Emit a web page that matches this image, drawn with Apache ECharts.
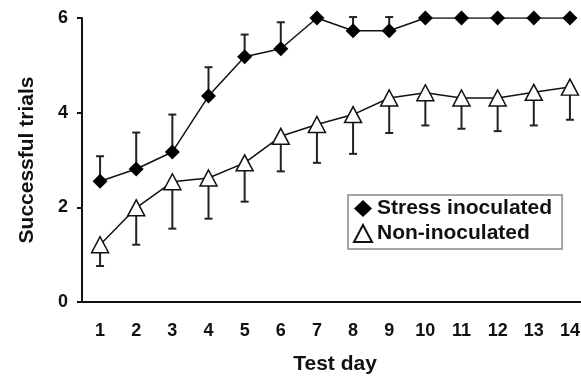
<!DOCTYPE html>
<html>
<head>
<meta charset="utf-8">
<script src="https://cdn.jsdelivr.net/npm/echarts@6/dist/echarts.min.js"></script>
<style>
  html, body { margin: 0; padding: 0; background: #fff; }
  #chart { width: 581px; height: 376px; }
</style>
</head>
<body>
<div id="chart"></div>
<script>
const days = ['1', '2', '3', '4', '5', '6', '7', '8', '9', '10', '11', '12', '13', '14'];
const stressMean = [2.55, 2.81, 3.17, 4.35, 5.18, 5.35, 6, 5.73, 5.73, 6, 6, 6, 6, 6];
const stressUpper = [3.08, 3.58, 3.96, 4.96, 5.65, 5.91, null, 6.02, 6.02, null, null, null, null, null];
const nonMean = [1.21, 1.99, 2.54, 2.62, 2.94, 3.5, 3.75, 3.96, 4.31, 4.42, 4.31, 4.31, 4.43, 4.54];
const nonLower = [0.76, 1.21, 1.55, 1.76, 2.12, 2.76, 2.94, 3.13, 3.57, 3.73, 3.66, 3.61, 3.73, 3.85];
const yTicks = { min: 0, max: 6, interval: 2 };

const font = 'Liberation Sans, Arial, sans-serif';

// error bars: vertical line with a cap at the far end
function errorBar(capAtTop) {
    return function (params, api) {
        var x = api.value(0);
        var p1 = api.coord([x, api.value(1)]);
        var p2 = api.coord([x, api.value(2)]);
        var capY = capAtTop ? p2[1] : p1[1];
        var st = { stroke: '#222', lineWidth: 2 };
        return {
            type: 'group',
            children: [
                { type: 'line', shape: { x1: p1[0], y1: p1[1], x2: p2[0], y2: p2[1] }, style: st },
                { type: 'line', shape: { x1: p1[0] - 4, y1: capY, x2: p1[0] + 4, y2: capY }, style: st }
            ]
        };
    };
}

var stressErr = [];
var nonErr = [];
for (var i = 0; i < days.length; i++) {
    if (stressUpper[i] != null) stressErr.push([i, stressMean[i], stressUpper[i]]);
    nonErr.push([i, nonLower[i], nonMean[i]]);
}

var myChart = echarts.init(document.getElementById('chart'));

var option = {
    animation: false,
    textStyle: { fontFamily: font },
    grid: { left: 82, top: 18, bottom: 74, right: -7, outerBoundsMode: 'none', containLabel: false },
    legend: {
        left: 348,
        top: 195,
        orient: 'vertical',
        borderColor: '#888',
        borderWidth: 1.5,
        padding: [3, 10, 5, 5],
        itemWidth: 18,
        itemHeight: 17,
        itemGap: 4,
        itemTextGap: 11,
        textStyle: { fontFamily: font, fontSize: 21, fontWeight: 'bold', color: '#111' },
        data: [
            { name: 'Stress inoculated', icon: 'diamond' },
            { name: 'Non-inoculated', icon: 'triangle' }
        ]
    },
    xAxis: {
        type: 'category',
        data: days,
        boundaryGap: true,
        name: 'Test day',
        nameLocation: 'middle',
        nameGap: 52,
        nameTextStyle: { fontFamily: font, fontSize: 21, fontWeight: 'bold', color: '#111' },
        axisLine: { lineStyle: { color: '#111', width: 2 } },
        axisTick: { length: 5, lineStyle: { color: '#111', width: 2 } },
        axisLabel: { fontFamily: font, fontSize: 18, fontWeight: 'bold', color: '#111', margin: 20 }
    },
    yAxis: {
        type: 'value',
        min: yTicks.min,
        max: yTicks.max,
        interval: yTicks.interval,
        name: 'Successful trials',
        nameLocation: 'middle',
        nameGap: 44,
        nameTextStyle: { fontFamily: font, fontSize: 21, fontWeight: 'bold', color: '#111' },
        splitLine: { show: false },
        axisLine: { show: true, lineStyle: { color: '#111', width: 2 } },
        axisTick: { show: true, length: 5, lineStyle: { color: '#111', width: 2 } },
        axisLabel: { fontFamily: font, fontSize: 18, fontWeight: 'bold', color: '#111', margin: 14 }
    },
    series: [
        {
            name: 'stressErr',
            type: 'custom',
            renderItem: errorBar(true),
            data: stressErr,
            encode: { x: 0, y: [1, 2] },
            z: 1
        },
        {
            name: 'nonErr',
            type: 'custom',
            renderItem: errorBar(false),
            data: nonErr,
            encode: { x: 0, y: [1, 2] },
            z: 1
        },
        {
            name: 'Stress inoculated',
            type: 'line',
            data: stressMean,
            symbol: 'diamond',
            symbolSize: [15, 15],
            itemStyle: { color: '#000' },
            lineStyle: { color: '#111', width: 1.5 },
            z: 3
        },
        {
            name: 'Non-inoculated',
            type: 'line',
            data: nonMean,
            symbol: 'triangle',
            symbolSize: [17, 16],
            itemStyle: { color: '#fff', borderColor: '#111', borderWidth: 1.5 },
            lineStyle: { color: '#111', width: 1.5 },
            z: 3
        }
    ]
};

myChart.setOption(option);
</script>
</body>
</html>
